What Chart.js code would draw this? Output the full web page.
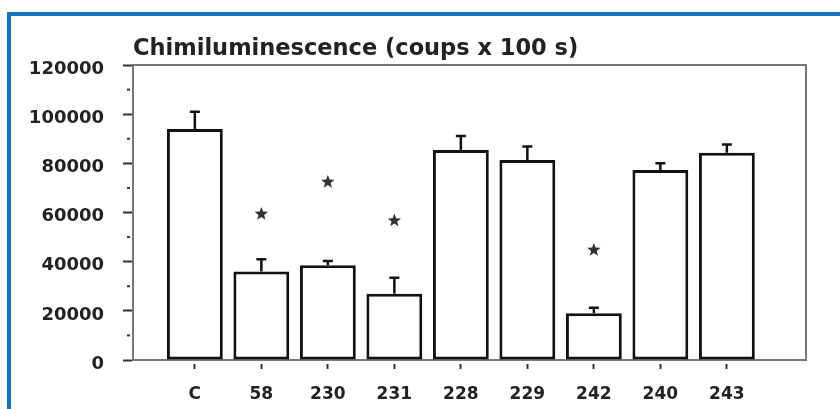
<!DOCTYPE html>
<html>
<head>
<meta charset="utf-8">
<script src="https://cdn.jsdelivr.net/npm/chart.js@4"></script>
<style>
  body { margin: 0; background: #fff; overflow: hidden; }
  #frame { position: absolute; left: 7px; top: 12px; width: 900px; height: 500px; border: 4px solid #1673c4; }
  #wrap { position: absolute; left: 0; top: 0; width: 840px; height: 409px; }
</style>
</head>
<body>
<div id="frame"></div>
<div id="wrap"><canvas id="myChart"></canvas></div>
<script>
const title = 'Chimiluminescence (coups x 100 s)';
const categories = ['C', '58', '230', '231', '228', '229', '242', '240', '243'];
const means = [94000, 36000, 38500, 27000, 85400, 81400, 19000, 77300, 84300];
const errors = [7000, 5000, 1800, 6500, 5700, 5400, 2300, 2700, 3400];
const starLevels = [null, 59400, 72400, 56700, null, null, 44750, null, null];
const minorTicks = [10000, 30000, 50000, 70000, 90000, 110000];

function drawStar(ctx, cx, cy, r1, r2) {
  ctx.beginPath();
  for (let k = 0; k < 10; k++) {
    const r = k % 2 ? r2 : r1;
    const a = -Math.PI / 2 + k * Math.PI / 5;
    ctx.lineTo(cx + r * Math.cos(a), cy + r * Math.sin(a));
  }
  ctx.closePath();
  ctx.fill();
}

const extras = {
  id: 'extras',
  afterDatasetsDraw(chart) {
    const ctx = chart.ctx, a = chart.chartArea, x = chart.scales.x, y = chart.scales.y;
    ctx.save();
    // top and right frame of the plot
    ctx.strokeStyle = '#777';
    ctx.lineWidth = 2;
    ctx.beginPath();
    ctx.moveTo(a.left, a.top);
    ctx.lineTo(a.right, a.top);
    ctx.lineTo(a.right, a.bottom);
    ctx.stroke();
    // error bars
    ctx.strokeStyle = '#111';
    ctx.lineWidth = 2.5;
    means.forEach((m, i) => {
      const px = x.getPixelForValue(i + 1);
      const y0 = y.getPixelForValue(m);
      const y1 = y.getPixelForValue(m + errors[i]);
      ctx.beginPath();
      ctx.moveTo(px, y0);
      ctx.lineTo(px, y1);
      ctx.moveTo(px - 5, y1);
      ctx.lineTo(px + 5, y1);
      ctx.stroke();
    });
    // significance stars
    ctx.fillStyle = '#333';
    starLevels.forEach((s, i) => {
      if (s == null) return;
      drawStar(ctx, x.getPixelForValue(i + 1), y.getPixelForValue(s), 7, 3);
    });
    // minor y ticks
    ctx.fillStyle = '#333';
    minorTicks.forEach(v => {
      ctx.fillRect(a.left - 6, y.getPixelForValue(v) - 1, 3, 2);
    });
    // title
    ctx.font = 'bold 22.5px "DejaVu Sans"';
    ctx.fillStyle = '#222';
    ctx.textAlign = 'left';
    ctx.textBaseline = 'alphabetic';
    ctx.fillText(title, a.left, 55);
    ctx.restore();
  }
};

new Chart(document.getElementById('myChart').getContext('2d'), {
  type: 'bar',
  data: {
    datasets: [{
      data: categories.map((c, i) => ({ x: i + 1, y: means[i] })),
      backgroundColor: '#fff',
      borderColor: '#111',
      borderWidth: 3,
      borderSkipped: false,
      categoryPercentage: 1,
      barPercentage: 0.84
    }]
  },
  options: {
    responsive: true,
    maintainAspectRatio: false,
    animation: false,
    layout: { padding: { left: 0, top: 65, right: 34, bottom: 0 } },
    plugins: { legend: { display: false }, tooltip: { enabled: false } },
    scales: {
      x: {
        type: 'linear',
        offset: false,
        min: 0.07,
        max: 10.19,
        afterBuildTicks: s => { s.ticks = categories.map((c, i) => ({ value: i + 1 })); },
        afterFit: s => { s.height = 49; },
        border: { color: '#777', width: 2 },
        grid: { offset: false, drawOnChartArea: false, tickLength: 9, tickColor: '#333', tickWidth: 2, tickBorderDash: [0, 3, 6, 100] },
        ticks: {
          padding: 15,
          color: '#222',
          font: { family: 'DejaVu Sans', size: 17, weight: 'bold' },
          callback: v => categories[v - 1]
        }
      },
      y: {
        min: 0,
        max: 120000,
        afterFit: s => { s.width = 133; },
        border: { color: '#777', width: 2 },
        grid: { drawOnChartArea: false, tickLength: 10, tickColor: '#333', tickWidth: 2 },
        ticks: {
          stepSize: 20000,
          padding: 19,
          labelOffset: 4,
          color: '#222',
          font: { family: 'DejaVu Sans', size: 18, weight: 'bold' },
          callback: v => String(v)
        }
      }
    }
  },
  plugins: [extras]
});
</script>
</body>
</html>
